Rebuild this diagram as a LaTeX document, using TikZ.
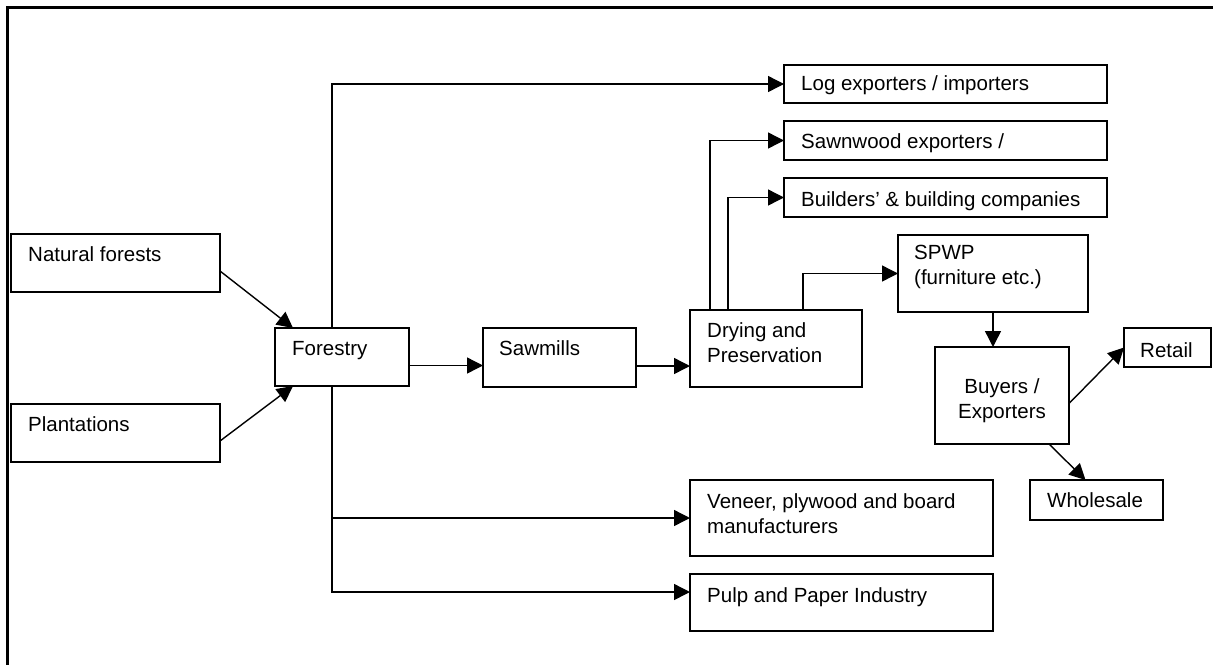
\documentclass[tikz,border=0pt]{standalone}
\usepackage{fontspec}
\setmainfont{Liberation Sans}
\usetikzlibrary{arrows.meta}
% two lines stacked, the node's baseline on the first one
\newcommand{\leftstack}[2]{\vtop{\hbox{#1}\hbox{#2}}}
\newcommand{\centrestack}[2]{\vtop{\halign{\hfil##\hfil\cr #1\cr #2\cr}}}
\begin{document}
\begin{tikzpicture}[x=1pt,y=-1pt,
  box/.style={draw, line width=1.5pt, rectangle, inner sep=0pt, outer sep=0pt, anchor=north west},
  lbl/.style={anchor=base west, inner sep=0pt, font=\fontsize{20.5}{25}\selectfont},
  clbl/.style={anchor=base, inner sep=0pt, font=\fontsize{20.5}{25}\selectfont},
  arr/.style={line width=1.4pt, -{Triangle[length=16pt,width=16pt]}},
  frameline/.style={line width=2.4pt}]
\useasboundingbox (0,0) rectangle (1213,665);
\fill[white] (0,0) rectangle (1213,665);

% outer frame (top and left edges)
\draw[frameline] (6,7.3) -- (1213,7.3);
\draw[frameline] (7.3,6) -- (7.3,665);

% boxes
\node[box, minimum width=209pt, minimum height=58pt] (nat)      at (11,234)  {};
\node[box, minimum width=209pt, minimum height=58pt] (plant)    at (11,404)  {};
\node[box, minimum width=134pt, minimum height=58pt] (forestry) at (275,328) {};
\node[box, minimum width=153pt, minimum height=59pt] (saw)      at (483,328) {};
\node[box, minimum width=172pt, minimum height=77pt] (dry)      at (690,310) {};
\node[box, minimum width=323pt, minimum height=38pt] (log)      at (784,65)  {};
\node[box, minimum width=323pt, minimum height=39pt] (sawn)     at (784,121) {};
\node[box, minimum width=323pt, minimum height=39pt] (build)    at (784,178) {};
\node[box, minimum width=190pt, minimum height=77pt] (spwp)     at (898,235) {};
\node[box, minimum width=134pt, minimum height=97pt] (buyers)   at (935,347) {};
\node[box, minimum width=87pt,  minimum height=39pt] (retail)   at (1124,328) {};
\node[box, minimum width=133pt, minimum height=40pt] (whole)    at (1030,480) {};
\node[box, minimum width=303pt, minimum height=76pt] (ven)      at (690,480) {};
\node[box, minimum width=303pt, minimum height=57pt] (pulp)     at (690,574) {};

% labels
\node[lbl] (natT)      at ([xshift=17pt,yshift=-27pt]nat.north west)      {Natural forests};
\node[lbl] (plantT)    at ([xshift=17pt,yshift=-27pt]plant.north west)    {Plantations};
\node[lbl] (forestryT) at ([xshift=17pt,yshift=-27pt]forestry.north west) {Forestry};
\node[lbl] (sawT)      at ([xshift=16pt,yshift=-27pt]saw.north west)      {Sawmills};
\node[lbl] (dryT)      at ([xshift=17pt,yshift=-27pt]dry.north west)      {\leftstack{Drying and}{Preservation}};
\node[lbl] (logT)      at ([xshift=17pt,yshift=-25pt]log.north west)      {Log exporters / importers};
\node[lbl] (sawnT)     at ([xshift=17pt,yshift=-27pt]sawn.north west)     {Sawnwood exporters /};
\node[lbl] (buildT)    at ([xshift=17pt,yshift=-28pt]build.north west)    {Builders’ \& building companies};
\node[lbl] (spwpT)     at ([xshift=16pt,yshift=-24pt]spwp.north west)     {\leftstack{SPWP}{(furniture etc.)}};
\node[clbl] (buyersT)  at ([yshift=-46.5pt]buyers.north)                  {\centrestack{Buyers /}{Exporters}};
\node[lbl] (retailT)   at ([xshift=16pt,yshift=-29pt]retail.north west)   {Retail};
\node[lbl] (wholeT)    at ([xshift=17pt,yshift=-27pt]whole.north west)    {Wholesale};
\node[lbl] (venT)      at ([xshift=17pt,yshift=-28pt]ven.north west)      {\leftstack{Veneer, plywood and board}{manufacturers}};
\node[lbl] (pulpT)     at ([xshift=17pt,yshift=-28pt]pulp.north west)     {Pulp and Paper Industry};

% connectors
\draw[arr] ([yshift=-8pt]nat.east) -- ([xshift=18pt]forestry.north west);
\draw[arr] ([yshift=-8pt]plant.east) -- ([xshift=18pt]forestry.south west);
\draw[arr] ([xshift=-10pt]forestry.north) |- (log.west);
\draw[arr] ([xshift=-10pt]forestry.south) |- (ven.west);
\draw[arr] ([xshift=-10pt]forestry.south) |- ([yshift=10.5pt]pulp.west);
\draw[arr] ([yshift=-8.5pt]forestry.east) -- ([yshift=-8.5pt]forestry.east -| saw.west);
\draw[arr] ([yshift=-8.5pt]saw.east) -- ([yshift=-8.5pt]saw.east -| dry.west);
\draw[arr] ([xshift=20pt]dry.north west) |- (sawn.west);
\draw[arr] ([xshift=38pt]dry.north west) |- (build.west);
\draw[arr] ([xshift=113pt]dry.north west) |- (spwp.west);
\draw[arr] (spwp.south) -- (spwp.south |- buyers.north);
\draw[arr] ([yshift=-8pt]buyers.east) -- (retail.west);
\draw[arr] ([xshift=47pt]buyers.south) -- ([xshift=-11pt]whole.north);
\end{tikzpicture}
\end{document}
